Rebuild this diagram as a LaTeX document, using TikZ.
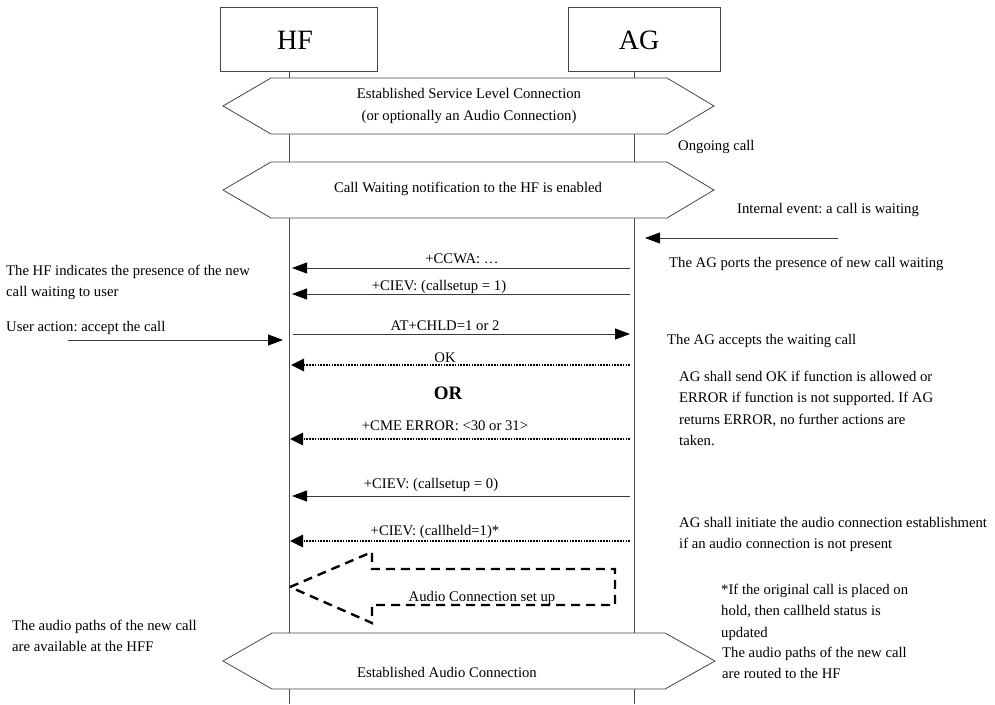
\documentclass[tikz,border=0pt]{standalone}
\usepackage{fontspec}
\setmainfont{Liberation Serif}
\usetikzlibrary{arrows.meta}
\frenchspacing
\begin{document}
\begin{tikzpicture}[x=1pt,y=-1pt,
  txt/.style={font=\fontsize{14.7}{21.5}\selectfont, inner sep=0pt, align=left, anchor=base west},
  lbl/.style={font=\fontsize{14.7}{21.5}\selectfont, inner sep=0pt, anchor=base},
  ctxt/.style={font=\fontsize{14.7}{21.5}\selectfont, inner sep=0pt, align=center},
  ent/.style={draw=gray!55!black, line width=0.8pt, fill=white, minimum height=64pt},
  enttxt/.style={font=\fontsize{28}{30}\selectfont, inner sep=0pt},
  life/.style={draw=gray!60!black, line width=0.8pt},
  hexa/.style={draw=gray!55!black, line width=0.8pt, fill=white},
  msg/.style={draw=gray!45!black, line width=0.8pt, -{Triangle[length=15pt,width=11pt,color=black]}},
  dmsg/.style={draw=black, line width=2.8pt, dash pattern=on 1.7pt off 1.1pt, -{Triangle[length=13pt,width=12pt]}},
  bigarrow/.style={draw=black, line width=2.4pt, dash pattern=on 9pt off 6pt, line join=miter},
  ortxt/.style={font=\bfseries\fontsize{19}{20}\selectfont, inner sep=0pt},
]
\path[use as bounding box] (0,0) rectangle (995,704);

% lifelines
\coordinate (hftop) at (289,71);
\coordinate (hfbot) at (289,704);
\coordinate (agtop) at (634,71);
\coordinate (agbot) at (634,704);
\draw[life] (hftop) -- (hfbot);
\draw[life] (agtop) -- (agbot);

% entities
\node[ent, minimum width=157pt] (hfbox) at (299,39.5) {};
\node[enttxt] (hftxt) at (295,40) {HF};
\node[ent, minimum width=152pt] (agbox) at (644,39.5) {};
\node[enttxt] (agtxt) at (639,40) {AG};

% hexagons
\draw[hexa] (223,106) -- (271,78) -- (667,78) -- (714,106) -- (667,134) -- (271,134) -- cycle;
\node[ctxt] (slc) at (469,106) {Established Service Level Connection\\(or optionally an Audio Connection)};
\draw[hexa] (223,190) -- (271,162) -- (667,162) -- (714,190) -- (667,218) -- (271,218) -- cycle;
\node[ctxt] (cwn) at (468,188.5) {Call Waiting notification to the HF is enabled};
\draw[hexa] (223,661) -- (272,633) -- (665,633) -- (715,661) -- (665,689) -- (272,689) -- cycle;
\node[ctxt] (eac) at (447,672) {Established Audio Connection};

% side texts (anchor = baseline of the last line)
\node[txt] (ongoing) at (678,150) {Ongoing call};
\node[txt] (intev) at (737,213) {Internal event: a call is waiting};
\node[txt] (agports) at (669,267) {The AG ports the presence of new call waiting};
\node[txt] (hfind) at (6,296.5) {The HF indicates the presence of the new\\call waiting to user};
\node[txt] (useract) at (6,331) {User action: accept the call};
\node[txt] (agacc) at (667,344) {The AG accepts the waiting call};
\node[txt] (agok) at (679,445.5) {AG shall send OK if function is allowed or\\ERROR if function is not supported. If AG\\returns ERROR, no further actions are\\taken.};
\node[txt] (aginit) at (679,548.5) {AG shall initiate the audio connection establishment\\if an audio connection is not present};
\node[txt] (ifheld) at (721,637) {*If the original call is placed on\\hold, then callheld status is\\updated};
\node[txt] (routed) at (722,678.5) {The audio paths of the new call\\are routed to the HF};
\node[txt] (avail) at (12,651.5) {The audio paths of the new call\\are available at the HFF};

% internal event and user action arrows
\coordinate (ies) at (838,238);
\coordinate (iee) at (645,238);
\draw[msg] (ies) -- (iee);
\coordinate (uas) at (68,340);
\coordinate (uae) at (283,340);
\draw[msg] (uas) -- (uae);

% messages
\coordinate (ag1) at (630,268); \coordinate (hf1) at (292,268);
\draw[msg] (ag1) -- (hf1);
\node[lbl] (l1) at (462,263) {+CCWA: …};

\coordinate (ag2) at (630,294); \coordinate (hf2) at (292,294);
\draw[msg] (ag2) -- (hf2);
\node[lbl] (l2) at (439,290) {+CIEV: (callsetup = 1)};

\coordinate (hf3) at (293,334); \coordinate (ag3) at (630,334);
\draw[msg] (hf3) -- (ag3);
\node[lbl] (l3) at (445,330) {AT+CHLD=1 or 2};

\coordinate (ag4) at (630,365); \coordinate (hf4) at (291,365);
\draw[dmsg] (ag4) -- (hf4);
\node[lbl] (l4) at (445,362) {OK};

\node[ortxt] (or) at (448,393) {OR};

\coordinate (ag5) at (630,439); \coordinate (hf5) at (290,439);
\draw[dmsg] (ag5) -- (hf5);
\node[lbl] (l5) at (445,430) {+CME ERROR: <30 or 31>};

\coordinate (ag6) at (630,496); \coordinate (hf6) at (292,496);
\draw[msg] (ag6) -- (hf6);
\node[lbl] (l6) at (431,488) {+CIEV: (callsetup = 0)};

\coordinate (ag7) at (630,541); \coordinate (hf7) at (290,541);
\draw[dmsg] (ag7) -- (hf7);
\node[lbl] (l7) at (435,535) {+CIEV: (callheld=1)*};

% audio connection set up (big dashed arrow)
\draw[bigarrow] (290,587) -- (372,552) -- (372,569) -- (615,569) -- (615,605) -- (372,605) -- (372,623) -- cycle;
\node[lbl] (acs) at (482,601) {Audio Connection set up};
\end{tikzpicture}
\end{document}
